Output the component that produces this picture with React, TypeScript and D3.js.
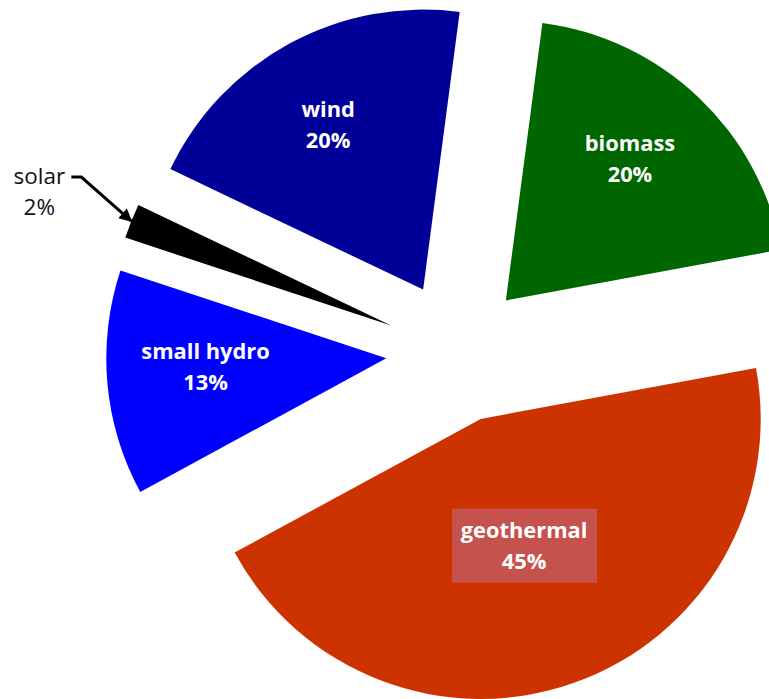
import React from 'react';
import * as d3 from 'd3';

// Renewable generation mix, shares in percent
const categories = ['biomass', 'geothermal', 'small hydro', 'solar', 'wind'];
const shares = [20, 45, 13, 2, 20];
const sliceColors = ['#006600', '#CC3300', '#0000FF', '#000000', '#000099'];

const W = 769;
const H = 699;
const CX = 457;
const CY = 352;
const R = 280;
const EXPLODE = 71;
const START = (7.5 * Math.PI) / 180;
const LINE_GAP = 31;
const FONT = "'Open Sans', 'DejaVu Sans', sans-serif";
const FONT_SIZE = 21;
const SX = 1.04;

type Slice = d3.PieArcDatum<number>;

// label placement inside each slice: distance from the slice tip and a small angular nudge
const labelPlacement: Record<string, { r: number; nudge: number }> = {
  biomass: { r: 188, nudge: -2.2 },
  geothermal: { r: 134, nudge: 0.6 },
  'small hydro': { r: 181, nudge: 2.3 },
  wind: { r: 190, nudge: -1.5 },
};

export default function App() {
  const pie = d3
    .pie<number>()
    .sort(null)
    .value((d) => d)
    .startAngle(START)
    .endAngle(START + 2 * Math.PI);
  const slices = pie(shares);
  const arc = d3.arc<Slice>().innerRadius(0).outerRadius(R);

  const shift = (s: Slice): [number, number] => {
    const mid = (s.startAngle + s.endAngle) / 2;
    return [EXPLODE * Math.sin(mid), -EXPLODE * Math.cos(mid)];
  };
  const ringPoint = (s: Slice, r: number, nudgeDeg = 0): [number, number] => {
    const n = (nudgeDeg * Math.PI) / 180;
    const shifted = { ...s, startAngle: s.startAngle + n, endAngle: s.endAngle + n };
    return d3.arc<Slice>().innerRadius(r).outerRadius(r).centroid(shifted) as [number, number];
  };

  return (
    <svg
      width={W}
      height={H}
      viewBox={`0 0 ${W} ${H}`}
      style={{ position: 'absolute', left: 0, top: 0, display: 'block', background: '#fff' }}
    >
      <defs>
        <marker
          id="arrowHead"
          viewBox="0 0 10 10"
          refX="9"
          refY="5"
          markerWidth="15"
          markerHeight="13"
          markerUnits="userSpaceOnUse"
          orient="auto"
        >
          <path d="M0,0 L10,5 L0,10 Z" fill="#000" />
        </marker>
      </defs>
      <g transform={`translate(${CX},${CY})`}>
        {slices.map((s, i) => {
          const [dx, dy] = shift(s);
          return (
            <path
              key={categories[i]}
              d={arc(s) || ''}
              transform={`translate(${dx},${dy})`}
              fill={sliceColors[i]}
            />
          );
        })}

        {slices.map((s, i) => {
          const name = categories[i];
          const [dx, dy] = shift(s);
          const pct = `${shares[i]}%`;
          if (name === 'solar') {
            const [tx, ty] = ringPoint(s, R);
            const tipX = tx + dx;
            const tipY = ty + dy;
            const lx = tipX - 92;
            const ly = tipY - 29;
            return (
              <g key={name}>
                <polyline
                  points={`${tipX - 60},${tipY - 44} ${tipX - 50},${tipY - 44} ${tipX},${tipY}`}
                  fill="none"
                  stroke="#000"
                  strokeWidth={3}
                  markerEnd="url(#arrowHead)"
                />
                <g transform={`translate(${lx},${ly}) scale(${SX + 0.03},1)`}>
                  <text textAnchor="middle" fontFamily={FONT} fontSize={FONT_SIZE} fill="#111">
                    <tspan x={0} y={-8}>{name}</tspan>
                    <tspan x={0} y={-8 + LINE_GAP}>{pct}</tspan>
                  </text>
                </g>
              </g>
            );
          }
          const place = labelPlacement[name];
          const [px, py] = ringPoint(s, place.r, place.nudge);
          const lx = px + dx;
          const ly = py + dy;
          return (
            <g key={name}>
              {name === 'geothermal' && (
                <rect x={lx - 72} y={ly - 37} width={145} height={74} fill="#C5524C" />
              )}
              <g transform={`translate(${lx},${ly}) scale(${SX},1)`}>
                <text
                  textAnchor="middle"
                  fontFamily={FONT}
                  fontWeight="bold"
                  fontSize={FONT_SIZE}
                  fill="#fff"
                >
                  <tspan x={0} y={-8}>{name}</tspan>
                  <tspan x={0} y={-8 + LINE_GAP}>{pct}</tspan>
                </text>
              </g>
            </g>
          );
        })}
      </g>
    </svg>
  );
}
